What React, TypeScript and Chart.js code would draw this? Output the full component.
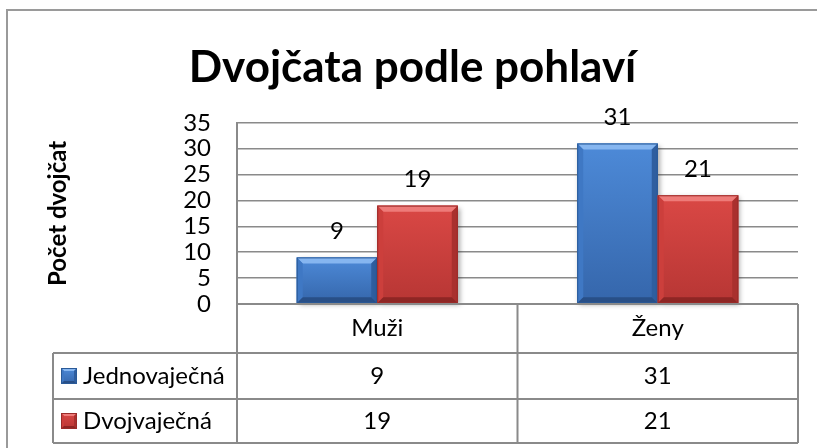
import React, { useEffect, useRef } from "react";
import { Chart, registerables } from "chart.js";

Chart.register(...registerables);

const TITLE = "Dvojčata podle pohlaví";
const Y_TITLE = "Počet dvojčat";
const categories = ["Muži", "Ženy"];
const seriesNames = ["Jednovaječná", "Dvojvaječná"];
const jednovajecna = [9, 31];
const dvojvajecna = [19, 21];
const yMax = 35;
const yStep = 5;

const FONT = "Lato, 'Open Sans', sans-serif";
const LINE = "#8a8a8a";
const TXT = 24;

const palettes = [
  { top: "#86b6f0", face1: "#4d8ad8", face2: "#3566ab", left: "#3f78c4", right: "#2f5e9f", bottom: "#284f87", edge: "#2a5a98" },
  { top: "#ee7b79", face1: "#da4845", face2: "#b73634", left: "#cc3f3c", right: "#a9302e", bottom: "#8e2624", edge: "#9b2b29" },
];

function drawBevel(ctx: CanvasRenderingContext2D, left: number, top: number, right: number, bottom: number, p: any, b: number) {
  const g = ctx.createLinearGradient(0, top, 0, bottom);
  g.addColorStop(0, p.face1);
  g.addColorStop(1, p.face2);
  ctx.fillStyle = g;
  ctx.fillRect(left, top, right - left, bottom - top);
  const poly = (pts: number[][], c: string) => {
    ctx.beginPath();
    ctx.moveTo(pts[0][0], pts[0][1]);
    for (let i = 1; i < pts.length; i++) ctx.lineTo(pts[i][0], pts[i][1]);
    ctx.closePath();
    ctx.fillStyle = c;
    ctx.fill();
  };
  poly([[left, top], [right, top], [right - b, top + b], [left + b, top + b]], p.top);
  poly([[left, top], [left + b, top + b], [left + b, bottom - b], [left, bottom]], p.left);
  poly([[right, top], [right - b, top + b], [right - b, bottom - b], [right, bottom]], p.right);
  poly([[left, bottom], [left + b, bottom - b], [right - b, bottom - b], [right, bottom]], p.bottom);
  ctx.strokeStyle = p.edge;
  ctx.lineWidth = 1;
  ctx.strokeRect(left + 0.5, top + 0.5, right - left - 1, bottom - top - 1);
}

const bevelPlugin = {
  id: "bevel",
  afterDatasetsDraw(chart: any) {
    const ctx = chart.ctx as CanvasRenderingContext2D;
    chart.data.datasets.forEach((ds: any, di: number) => {
      const meta = chart.getDatasetMeta(di);
      meta.data.forEach((bar: any, i: number) => {
        const { x, y, base, width } = bar.getProps(["x", "y", "base", "width"], true);
        const left = x - width / 2;
        const right = x + width / 2;
        ctx.save();
        ctx.shadowColor = "rgba(0,0,0,0.35)";
        ctx.shadowBlur = 5;
        ctx.shadowOffsetX = 2;
        ctx.shadowOffsetY = 2;
        ctx.fillStyle = palettes[di].face2;
        ctx.fillRect(left, y, width, base - y);
        ctx.restore();
        ctx.save();
        drawBevel(ctx, left, y, right, base, palettes[di], 6);
        ctx.restore();
        ctx.save();
        ctx.font = `${TXT}px ${FONT}`;
        ctx.fillStyle = "#000";
        ctx.textAlign = "center";
        ctx.textBaseline = "middle";
        ctx.fillText(String(ds.data[i]), x, y - 26);
        ctx.restore();
      });
    });
  },
};

const tablePlugin = {
  id: "dataTable",
  afterDraw(chart: any) {
    const ctx = chart.ctx as CanvasRenderingContext2D;
    const area = chart.chartArea;
    const xs = chart.scales.x;
    const half = (xs.getPixelForValue(1) - xs.getPixelForValue(0)) / 2;
    const colEdges: number[] = [area.left];
    for (let i = 0; i < categories.length; i++) colEdges.push(xs.getPixelForValue(i) + half);
    const labelLeft = 53;
    const headTop = area.bottom;
    const rowH = [49, 46, 44];
    const r1 = headTop + rowH[0];
    const r2 = r1 + rowH[1];
    const r3 = r2 + rowH[2];
    ctx.save();
    ctx.strokeStyle = "#9a9a9a";
    ctx.lineWidth = 2;
    ctx.beginPath();
    ctx.moveTo(7, 460);
    ctx.lineTo(7, 10);
    ctx.lineTo(830, 10);
    ctx.stroke();

    ctx.strokeStyle = LINE;
    ctx.lineWidth = 2;
    ctx.beginPath();
    ctx.moveTo(area.left, headTop); ctx.lineTo(area.right, headTop);
    ctx.moveTo(labelLeft, r1); ctx.lineTo(area.right, r1);
    ctx.moveTo(labelLeft, r2); ctx.lineTo(area.right, r2);
    ctx.moveTo(labelLeft, r3); ctx.lineTo(area.right, r3);
    ctx.moveTo(labelLeft, r1); ctx.lineTo(labelLeft, r3);
    colEdges.forEach((e) => {
      ctx.moveTo(e, headTop); ctx.lineTo(e, r3);
    });
    ctx.stroke();

    ctx.fillStyle = "#000";
    ctx.font = `${TXT}px ${FONT}`;
    ctx.textAlign = "center";
    ctx.textBaseline = "middle";
    categories.forEach((c, i) => {
      const cx = xs.getPixelForValue(i);
      ctx.fillText(c, cx, (headTop + r1) / 2);
      ctx.fillText(String(chart.data.datasets[0].data[i]), cx, (r1 + r2) / 2);
      ctx.fillText(String(chart.data.datasets[1].data[i]), cx, (r2 + r3) / 2);
    });
    const rows = [(r1 + r2) / 2, (r2 + r3) / 2];
    seriesNames.forEach((n, i) => {
      drawBevel(ctx, 61, rows[i] - 8, 77, rows[i] + 8, palettes[i], 3);
      ctx.fillStyle = "#000";
      ctx.textAlign = "left";
      ctx.fillText(n, 83, rows[i]);
    });
    ctx.restore();
  },
};

export default function App() {
  const ref = useRef<HTMLCanvasElement | null>(null);
  useEffect(() => {
    document.body.style.margin = "0";
    if (!ref.current) return;
    const chart = new Chart(ref.current, {
      type: "bar",
      data: {
        labels: categories,
        datasets: [
          { label: seriesNames[0], data: jednovajecna, backgroundColor: "rgba(0,0,0,0)" },
          { label: seriesNames[1], data: dvojvajecna, backgroundColor: "rgba(0,0,0,0)" },
        ],
      },
      options: {
        animation: false,
        responsive: false,
        events: [],
        layout: { padding: { left: 27, right: 19, top: 10, bottom: 144 } },
        datasets: { bar: { barPercentage: 1, categoryPercentage: 0.574 } },
        plugins: {
          legend: { display: false },
          tooltip: { enabled: false },
          title: {
            display: true,
            text: TITLE,
            color: "#000",
            font: { family: FONT, size: 44, weight: "bold", lineHeight: 1.2 },
            padding: { top: 31, bottom: 29 },
          },
        },
        scales: {
          x: { display: false },
          y: {
            min: 0,
            max: yMax,
            afterFit: (s: any) => { s.width = 210; },
            ticks: { stepSize: yStep, autoSkip: false, color: "#000", padding: 26, font: { family: FONT, size: TXT } },
            grid: { color: LINE, lineWidth: 1.5, drawTicks: false },
            border: { display: true, color: LINE, width: 2 },
            title: {
              display: true,
              text: Y_TITLE,
              color: "#000",
              font: { family: FONT, size: 24, weight: "bold", lineHeight: 1.2 },
              padding: { top: 17, bottom: 0 },
            },
          },
        },
      },
      plugins: [bevelPlugin, tablePlugin],
    } as any);
    return () => chart.destroy();
  }, []);
  return (
    <div style={{ width: 817, height: 448, background: "#fff" }}>
      <canvas ref={ref} width={817} height={448} style={{ display: "block" }} />
    </div>
  );
}
